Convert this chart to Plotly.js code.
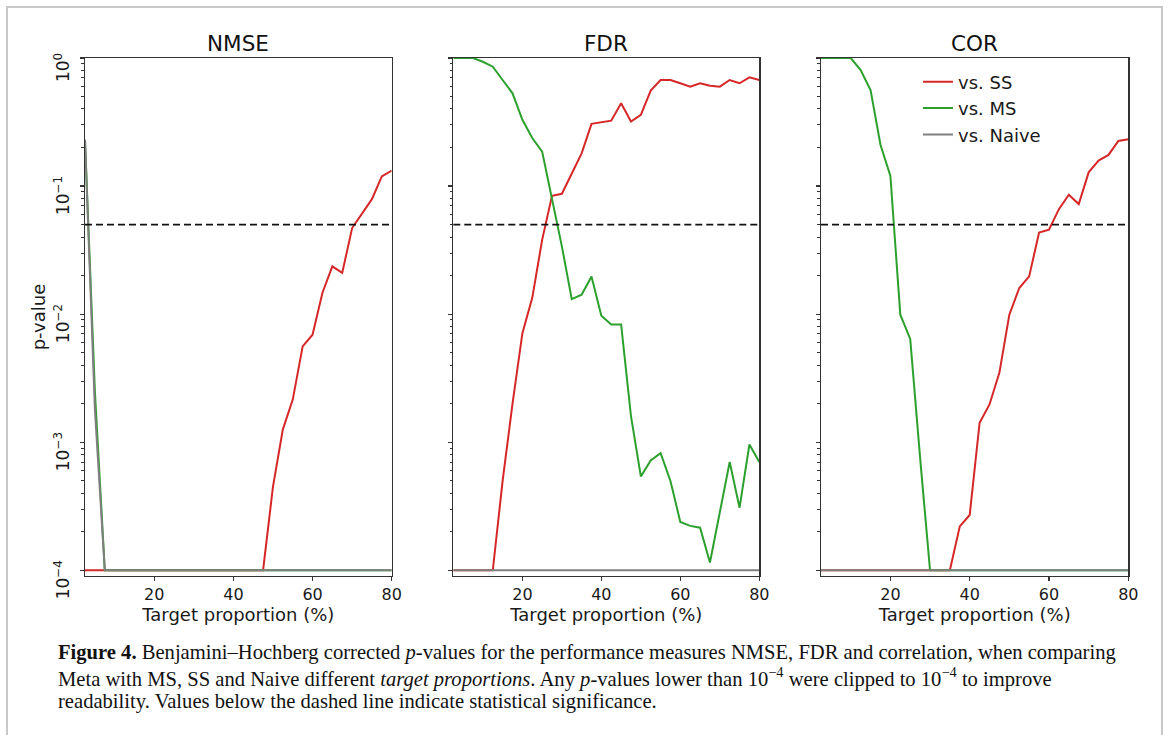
<!DOCTYPE html>
<html>
<head>
<meta charset="utf-8">
<script src="https://cdn.plot.ly/plotly-3.0.1.min.js"></script>
<style>html,body{margin:0;padding:0;background:#fff;}#chart{width:1170px;height:735px;}</style>
</head>
<body>
<div id="chart"></div>
<script>
// ---------- data ----------
const targetProportion = [2.5, 5, 7.5, 10, 12.5, 15, 17.5, 20, 22.5, 25, 27.5, 30, 32.5, 35, 37.5, 40,
  42.5, 45, 47.5, 50, 52.5, 55, 57.5, 60, 62.5, 65, 67.5, 70, 72.5, 75, 77.5, 80];

const panelTitles = ['NMSE', 'FDR', 'COR'];
const seriesNames = ['vs. SS', 'vs. MS', 'vs. Naive'];

const nmseSS = [1e-4, 1e-4, 1e-4, 1e-4, 1e-4, 1e-4, 1e-4, 1e-4, 1e-4, 1e-4, 1e-4, 1e-4, 1e-4, 1e-4, 1e-4, 1e-4,
  1e-4, 1e-4, 1e-4, 4.5e-4, 1.26e-3, 2.15e-3, 5.6e-3, 6.9e-3, 0.0147, 0.0236, 0.021, 0.047, 0.061, 0.079, 0.119, 0.132];
const nmseMS = [0.23, 2.5e-3, 1e-4, 1e-4, 1e-4, 1e-4, 1e-4, 1e-4, 1e-4, 1e-4, 1e-4, 1e-4, 1e-4, 1e-4, 1e-4, 1e-4,
  1e-4, 1e-4, 1e-4, 1e-4, 1e-4, 1e-4, 1e-4, 1e-4, 1e-4, 1e-4, 1e-4, 1e-4, 1e-4, 1e-4, 1e-4, 1e-4];
const nmseNaive = [0.23, 1.8e-3, 1e-4, 1e-4, 1e-4, 1e-4, 1e-4, 1e-4, 1e-4, 1e-4, 1e-4, 1e-4, 1e-4, 1e-4, 1e-4, 1e-4,
  1e-4, 1e-4, 1e-4, 1e-4, 1e-4, 1e-4, 1e-4, 1e-4, 1e-4, 1e-4, 1e-4, 1e-4, 1e-4, 1e-4, 1e-4, 1e-4];

const fdrSS = [1e-4, 1e-4, 1e-4, 1e-4, 1e-4, 5e-4, 2.0e-3, 7.1e-3, 0.0134, 0.038, 0.084, 0.087, 0.126, 0.18, 0.306, 0.313,
  0.324, 0.443, 0.319, 0.36, 0.556, 0.673, 0.673, 0.635, 0.597, 0.635, 0.608, 0.597, 0.673, 0.635, 0.707, 0.673];
const fdrMS = [1.0, 1.0, 1.0, 0.935, 0.855, 0.673, 0.53, 0.329, 0.237, 0.186, 0.080, 0.0338, 0.0131, 0.0142, 0.0197, 0.0097,
  0.0083, 0.0083, 1.6e-3, 5.4e-4, 7.2e-4, 8.2e-4, 4.98e-4, 2.38e-4, 2.22e-4, 2.15e-4, 1.15e-4, 2.8e-4, 7.0e-4, 3.08e-4, 9.6e-4, 7.0e-4];
const fdrNaive = [1e-4, 1e-4, 1e-4, 1e-4, 1e-4, 1e-4, 1e-4, 1e-4, 1e-4, 1e-4, 1e-4, 1e-4, 1e-4, 1e-4, 1e-4, 1e-4,
  1e-4, 1e-4, 1e-4, 1e-4, 1e-4, 1e-4, 1e-4, 1e-4, 1e-4, 1e-4, 1e-4, 1e-4, 1e-4, 1e-4, 1e-4, 1e-4];

const corSS = [1e-4, 1e-4, 1e-4, 1e-4, 1e-4, 1e-4, 1e-4, 1e-4, 1e-4, 1e-4, 1e-4, 1e-4, 1e-4, 1e-4, 2.2e-4, 2.7e-4,
  1.42e-3, 1.97e-3, 3.5e-3, 9.9e-3, 0.016, 0.0197, 0.0434, 0.0456, 0.066, 0.0855, 0.0723, 0.128, 0.158, 0.175, 0.225, 0.232];
const corMS = [1.0, 1.0, 1.0, 1.0, 0.806, 0.563, 0.21, 0.12, 0.0099, 6.4e-3, 7.5e-4, 1e-4, 1e-4, 1e-4, 1e-4, 1e-4,
  1e-4, 1e-4, 1e-4, 1e-4, 1e-4, 1e-4, 1e-4, 1e-4, 1e-4, 1e-4, 1e-4, 1e-4, 1e-4, 1e-4, 1e-4, 1e-4];
const corNaive = [1e-4, 1e-4, 1e-4, 1e-4, 1e-4, 1e-4, 1e-4, 1e-4, 1e-4, 1e-4, 1e-4, 1e-4, 1e-4, 1e-4, 1e-4, 1e-4,
  1e-4, 1e-4, 1e-4, 1e-4, 1e-4, 1e-4, 1e-4, 1e-4, 1e-4, 1e-4, 1e-4, 1e-4, 1e-4, 1e-4, 1e-4, 1e-4];

const significanceLevel = 0.05;

const xTickVals = [20, 40, 60, 80];
const yTickVals = [1e-4, 1e-3, 1e-2, 1e-1, 1];
const yTickText = ['10<sup>−4</sup>', '10<sup>−3</sup>', '10<sup>−2</sup>', '10<sup>−1</sup>', '10<sup>0</sup>'];

const xTitle = 'Target proportion (%)';
const yTitle = 'p-value';

const captionLines = [
  '<b>Figure 4.</b> Benjamini–Hochberg corrected <i>p</i>-values for the performance measures NMSE, FDR and correlation, when comparing',
  'Meta with MS, SS and Naive different <i>target proportions</i>. Any <i>p</i>-values lower than 10<sup>−4</sup> were clipped to 10<sup>−4</sup> to improve',
  'readability. Values below the dashed line indicate statistical significance.'
];

// ---------- styling / layout ----------
const W = 1170, H = 735;
const px = v => v / W;
const py = v => 1 - v / H;
const colors = ['#d62728', '#2ca02c', '#7f7f7f'];
const panels = [
  [nmseSS, nmseMS, nmseNaive],
  [fdrSS, fdrMS, fdrNaive],
  [corSS, corMS, corNaive]
];
const xDomains = [[85, 391.7], [453.3, 759.3], [821, 1128.3]];
const yDomain = [py(576), py(58)];
const FONT = 'DejaVu Sans, sans-serif';

// minor tick positions (2..9 x 10^k) for the log axes
const minorVals = [];
for (let k = -4; k < 0; k++) for (let m = 2; m <= 9; m++) minorVals.push(m * Math.pow(10, k));

const traces = [];
panels.forEach((series, p) => {
  series.forEach((ys, s) => {
    traces.push({
      type: 'scatter', mode: 'lines',
      x: targetProportion, y: ys,
      name: seriesNames[s],
      xaxis: p === 0 ? 'x' : 'x' + (p + 1),
      yaxis: p === 0 ? 'y' : 'y' + (p + 1),
      line: {color: colors[s], width: 2},
      showlegend: p === 2,
      legendrank: s + 1,
      hoverinfo: 'skip'
    });
  });
});

const layout = {
  width: W, height: H,
  margin: {l: 0, r: 0, t: 0, b: 0},
  paper_bgcolor: '#ffffff', plot_bgcolor: '#ffffff',
  font: {family: FONT, color: '#1a1a1a'},
  showlegend: true,
  legend: {
    x: px(918), y: py(63.5), xanchor: 'left', yanchor: 'top',
    bgcolor: 'rgba(0,0,0,0)', borderwidth: 0,
    font: {family: FONT, size: 18, color: '#1a1a1a'},
    traceorder: 'normal'
  },
  shapes: [],
  annotations: []
};

panels.forEach((_, p) => {
  const xa = p === 0 ? 'xaxis' : 'xaxis' + (p + 1);
  const ya = p === 0 ? 'yaxis' : 'yaxis' + (p + 1);
  const yref = p === 0 ? 'y' : 'y' + (p + 1);
  const xref = p === 0 ? 'x' : 'x' + (p + 1);
  layout[xa] = {
    domain: [px(xDomains[p][0]), px(xDomains[p][1])],
    anchor: yref,
    range: [2.5, 80],
    tickmode: 'array', tickvals: xTickVals,
    ticks: 'outside', ticklen: 4, tickwidth: 1.2, tickcolor: '#333',
    showline: true, mirror: true, linecolor: '#333', linewidth: 1.2,
    showgrid: false, zeroline: false,
    tickfont: {family: FONT, size: 16, color: '#1a1a1a'},
    title: {text: xTitle, font: {family: FONT, size: 18, color: '#1a1a1a'}, standoff: 3},
    fixedrange: true
  };
  const yax = {
    domain: yDomain,
    anchor: xref,
    type: 'log',
    range: [-4.045, 0],
    tickmode: 'array', tickvals: yTickVals, ticktext: yTickText,
    showticklabels: p === 0,
    tickangle: -90,
    ticks: 'outside', ticklen: 4, tickwidth: 1.2, tickcolor: '#333',
    minor: {tickmode: 'array', tickvals: minorVals, ticks: 'outside', ticklen: 2.5, tickwidth: 1, tickcolor: '#333', showgrid: false},
    showline: true, mirror: true, linecolor: '#333', linewidth: 1.2,
    showgrid: false, zeroline: false,
    fixedrange: true
  };
  if (p === 0) {
    yax.ticklabelshift = 12;
    yax.ticklabelstandoff = 4;
    yax.tickfont = {family: FONT, size: 17, color: '#1a1a1a'};
    yax.title = {text: yTitle, font: {family: FONT, size: 18, color: '#1a1a1a'}, standoff: 0};
  }
  layout[ya] = yax;
  // significance threshold
  layout.shapes.push({
    type: 'line', xref: xref + ' domain', yref: yref,
    x0: 0, x1: 1, y0: significanceLevel, y1: significanceLevel,
    line: {color: '#111', width: 1.8, dash: '7px,4px'}, layer: 'above'
  });
  // panel title
  layout.annotations.push({
    text: panelTitles[p], xref: 'paper', yref: 'paper',
    x: (px(xDomains[p][0]) + px(xDomains[p][1])) / 2, y: py(43),
    xanchor: 'center', yanchor: 'middle', showarrow: false,
    font: {family: FONT, size: 21.5, color: '#111'}
  });
});

// page frame
layout.shapes.push({
  type: 'rect', xref: 'paper', yref: 'paper',
  x0: px(7), x1: px(1162), y0: -0.05, y1: py(7),
  line: {color: '#c8c8c8', width: 2}, fillcolor: 'rgba(0,0,0,0)', layer: 'below'
});

// caption
const captionY = [652, 677, 701];
captionLines.forEach((t, i) => {
  layout.annotations.push({
    text: t, xref: 'paper', yref: 'paper',
    x: px(56), y: py(captionY[i]), xanchor: 'left', yanchor: 'middle', align: 'left',
    showarrow: false,
    font: {family: 'Liberation Serif, serif', size: 20.6, color: '#111'}
  });
});

Plotly.newPlot('chart', traces, layout, {staticPlot: true, displayModeBar: false});
</script>
</body>
</html>
